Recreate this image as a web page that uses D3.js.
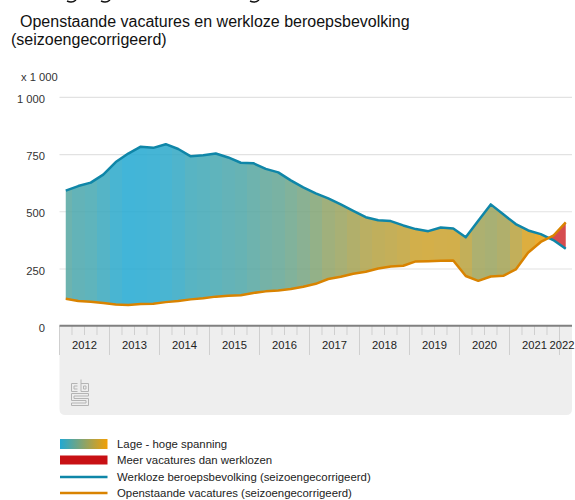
<!DOCTYPE html>
<html>
<head>
<meta charset="utf-8">
<script src="https://cdn.jsdelivr.net/npm/d3@7"></script>
<style>
    html, body { margin: 0; padding: 0; background: #fff; overflow: hidden; }
    svg { display: block; font-family: "Liberation Sans", Arial, sans-serif; }
    .title { font-size: 16px; fill: #111; }
    .legend-label { font-size: 11.4px; fill: #222; }
    .tick-label { font-size: 11.2px; fill: #333; }
</style>
</head>
<body>
<svg id="chart" width="575" height="500"></svg>
<script>
// Values, x 1 000, one per quarter from 2012 Q1 to 2022 Q1
const years = [2012, 2013, 2014, 2015, 2016, 2017, 2018, 2019, 2020, 2021, 2022];
const yTicks = [0, 250, 500, 750, 1000];
const unemployed = [
    590, 610, 625, 660, 715, 752, 782, 777, 793, 772, 740, 745, 752, 735, 712, 710, 685, 670, 635, 604,
    578, 556, 530, 502, 474, 461, 457, 438, 422, 413, 429, 425, 386, 458, 530, 487, 444, 416, 400, 374, 336
];
const vacancies = [
    118, 108, 105, 99, 93, 90, 95, 96, 103, 108, 115, 120, 127, 131, 133, 143, 150, 154, 160, 170,
    183, 204, 214, 227, 236, 250, 259, 262, 281, 282, 284, 285, 217, 196, 215, 218, 246, 320, 366, 393, 451
];
const legendLabels = [
    'Lage - hoge spanning',
    'Meer vacatures dan werklozen',
    'Werkloze beroepsbevolking (seizoengecorrigeerd)',
    'Openstaande vacatures (seizoengecorrigeerd)'
];

const svg = d3.select('#chart');
const left = 59.5, right = 572, axisY = 325.7, panelBottom = 415;
const blue = '#0f86a8', orange = '#d98300';

const x = d3.scaleLinear().domain([0, unemployed.length]).range([left, right]);
const y = d3.scaleLinear().domain([0, 1000]).range([axisY, 96.8]);
const tension = d3.scaleLog().domain([0.12, 1]).range(['#22a8d2', '#f29f05'])
    .interpolate(d3.interpolateRgb).clamp(true);

// Title, with the tail of a heading that is cut off at the top edge
svg.selectAll('.cut').data([66, 100, 249]).enter().append('path')
    .attr('class', 'cut')
    .attr('d', d => `M${d + 1},1 Q${d + 6},3.5 ${d + 10},0`)
    .attr('fill', 'none').attr('stroke', '#111').attr('stroke-width', 1.4);
svg.append('text').attr('class', 'title').attr('x', 20).attr('y', 26.5)
    .text('Openstaande vacatures en werkloze beroepsbevolking');
svg.append('text').attr('class', 'title').attr('x', 11).attr('y', 45)
    .text('(seizoengecorrigeerd)');

svg.append('text').attr('class', 'tick-label').attr('x', 21).attr('y', 81).text('x 1 000');

// Grey panel under the axis, only the bottom corners are round
const r = 6;
svg.append('path')
    .attr('d', `M${left},${axisY} H${right} V${panelBottom - r} Q${right},${panelBottom} ${right - r},${panelBottom}` +
        ` H${left + r} Q${left},${panelBottom} ${left},${panelBottom - r} Z`)
    .attr('fill', '#eeeeee');

// Y axis and grid
const yAxis = d3.axisLeft(y)
    .tickValues(yTicks)
    .tickSize(right - left)
    .tickFormat(d => d === 1000 ? '1 000' : d);
const yG = svg.append('g').attr('transform', `translate(${right},0)`).call(yAxis);
yG.select('.domain').remove();
yG.selectAll('line').attr('stroke', '#e2e2e2').attr('stroke-width', 1.2);
yG.selectAll('.tick').filter(d => d === 0).select('line').remove();
yG.selectAll('text')
    .attr('class', 'tick-label')
    .attr('x', 45 - right)
    .attr('dy', '0.5em')
    .style('font-family', 'inherit')
    .style('font-size', '11.2px');

// Split the series at the crossing so both regions get a clean edge
const cross = unemployed.findIndex((u, i) => vacancies[i] > u);
const a = unemployed[cross - 1] - vacancies[cross - 1];
const b = vacancies[cross] - unemployed[cross];
const crossPos = cross - 1 + a / (a + b);
const crossVal = unemployed[cross - 1] + (unemployed[cross] - unemployed[cross - 1]) * (crossPos - cross + 1);

const rows = unemployed.map((u, i) => ({ pos: i, u: u, v: vacancies[i] }));
const crossRow = { pos: crossPos, u: crossVal, v: crossVal };
const lowRows = rows.slice(0, cross).concat([crossRow]);
const highRows = [crossRow].concat(rows.slice(cross));

const px = d => x(d.pos + 0.5);
const area = d3.area().x(px).y0(d => y(d.v)).y1(d => y(d.u));

svg.append('clipPath').attr('id', 'spanning')
    .append('path').attr('d', area(lowRows));

// One band per quarter, coloured by vacancies per unemployed person
svg.append('g').attr('clip-path', 'url(#spanning)').attr('opacity', 0.85)
    .selectAll('rect')
    .data(rows.filter(d => d.pos <= cross))
    .enter().append('rect')
    .attr('x', d => Math.round(x(d.pos)))
    .attr('width', 14)
    .attr('y', y(1000))
    .attr('height', axisY - y(1000))
    .attr('shape-rendering', 'crispEdges')
    .attr('fill', d => tension(d.v / d.u));

svg.append('path').attr('d', area(highRows)).attr('fill', '#c81014').attr('opacity', 0.75);

// Lines
const line = key => d3.line().x(px).y(d => y(d[key]))(rows);
svg.append('path').attr('d', line('u')).attr('fill', 'none')
    .attr('stroke', blue).attr('stroke-width', 2.5).attr('stroke-linejoin', 'round');
svg.append('path').attr('d', line('v')).attr('fill', 'none')
    .attr('stroke', orange).attr('stroke-width', 2.5).attr('stroke-linejoin', 'round');

// X axis: year and quarter ticks
const quarters = d3.range(0, unemployed.length + 1);
const xG = svg.append('g');
xG.selectAll('line').data(quarters.filter(q => q < unemployed.length)).enter().append('line')
    .attr('x1', d => x(d)).attr('x2', d => x(d))
    .attr('y1', axisY)
    .attr('y2', d => d % 4 === 0 ? 355 : 335)
    .attr('stroke', '#cfcfcf').attr('stroke-width', 1);
// 2022 has one quarter only, so its label is pulled in from the window edge
xG.selectAll('text').data(years).enter().append('text')
    .attr('class', 'tick-label')
    .attr('x', (d, i) => d === 2022 ? 574.5 : x(i * 4 + 2))
    .attr('y', 349)
    .attr('text-anchor', d => d === 2022 ? 'end' : 'middle')
    .style('fill', '#222')
    .text(d => d);
svg.append('line').attr('x1', left).attr('x2', right).attr('y1', axisY).attr('y2', axisY)
    .attr('stroke', '#808080').attr('stroke-width', 2);

// CBS logo
const logo = svg.append('g').attr('transform', 'translate(71,379)')
    .attr('fill', 'none').attr('stroke', '#b4b4b4').attr('stroke-width', 1);
logo.append('path').attr('d', 'M0.5,4.5 H6.5 M0.5,4.5 V12.5 H6.5 M3,7 H6.5 M3,7 V10 H6.5');
logo.append('path').attr('d', 'M10,0.5 V12.5 H17.5 V4.5 H10 M12.5,7 H15 V10 H12.5 Z');
logo.append('path').attr('d', 'M0.5,14.5 H17.5 V17 H3 V19.5 H17.5 V26.5 H0.5 V24 H15 V21.5 H0.5 Z');

// Legend
const legendY = [444, 460, 477, 493];
const grad = svg.append('defs').append('linearGradient').attr('id', 'legendGrad');
grad.append('stop').attr('offset', '0%').attr('stop-color', tension(0.12));
grad.append('stop').attr('offset', '100%').attr('stop-color', tension(1));

const legend = svg.selectAll('.legend').data(legendLabels).enter().append('g')
    .attr('class', 'legend')
    .attr('transform', (d, i) => `translate(0,${legendY[i]})`);
legend.append('text').attr('class', 'legend-label').attr('x', 117).attr('y', 3.8).text(d => d);
legend.filter((d, i) => i < 2).append('rect')
    .attr('x', 60).attr('width', 47.5)
    .attr('y', (d, i) => i === 0 ? -5 : -4.5)
    .attr('height', (d, i) => i === 0 ? 10 : 9)
    .attr('fill', (d, i) => i === 0 ? 'url(#legendGrad)' : '#c81014');
legend.filter((d, i) => i >= 2).append('line')
    .attr('x1', 60).attr('x2', 107.5)
    .attr('stroke', (d, i) => i === 0 ? blue : orange)
    .attr('stroke-width', 2.4);
</script>
</body>
</html>
